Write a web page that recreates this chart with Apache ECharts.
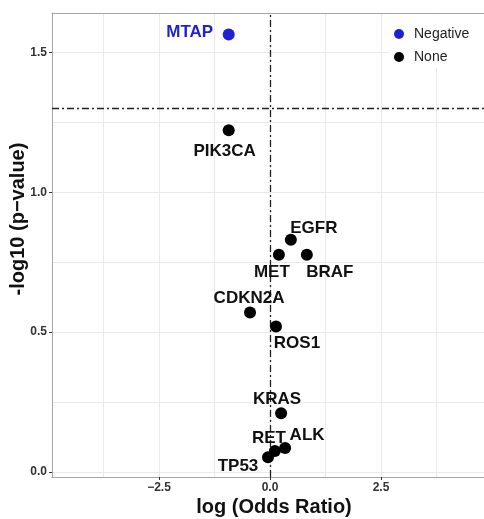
<!DOCTYPE html>
<html>
<head>
<meta charset="utf-8">
<script src="https://cdn.jsdelivr.net/npm/echarts@6/dist/echarts.min.js"></script>
<style>
  html, body { margin: 0; padding: 0; background: #fff; }
  #main { width: 484px; height: 519px; }
</style>
</head>
<body>
<div id="main"></div>
<script>
// values
const genes = ['MTAP', 'PIK3CA', 'EGFR', 'MET', 'BRAF', 'CDKN2A', 'ROS1', 'KRAS', 'RET', 'ALK', 'TP53'];
const logOddsRatio = [-0.93, -0.93, 0.47, 0.20, 0.83, -0.45, 0.135, 0.25, 0.11, 0.34, -0.045];
const negLog10P = [1.564, 1.222, 0.830, 0.777, 0.777, 0.570, 0.520, 0.210, 0.075, 0.086, 0.053];
const direction = ['Negative', 'None', 'None', 'None', 'None', 'None', 'None', 'None', 'None', 'None', 'None'];

const xTicks = [-2.5, 0, 2.5];
const yTicks = [0, 0.5, 1, 1.5];
const xGridLines = [-3.75, -2.5, -1.25, 0, 1.25, 2.5, 3.75];
const yGridLines = [0, 0.25, 0.5, 0.75, 1, 1.25, 1.5];
const pCutoff = -Math.log10(0.05);

// label placement (pixel offset of text centre from the dot)
const labelOffset = {
  MTAP: [-39, -2], PIK3CA: [-4, 21], EGFR: [23, -12], MET: [-7, 18], BRAF: [23, 18],
  CDKN2A: [-1, -14], ROS1: [21, 17], KRAS: [-4, -14], RET: [-6, -13], ALK: [22, -13], TP53: [-30, 9]
};
const colors = { Negative: '#1f1fd4', None: '#000000' };
const FONT = '"Liberation Sans", Arial, Helvetica, sans-serif';
const X_MIN = -4.91, X_MAX = 4.82;

function pointsFor(group) {
  const out = [];
  genes.forEach((g, i) => {
    if (direction[i] !== group) return;
    out.push({
      name: g,
      value: [logOddsRatio[i], negLog10P[i]],
      label: { offset: labelOffset[g] }
    });
  });
  return out;
}

const borderLine = { show: true, onZero: false, lineStyle: { color: '#a6a6a6', width: 1 } };
const gridLineStyle = { color: '#e9e9e9', width: 1, type: 'solid' };
const refLineStyle = { color: '#222', width: 1.3, type: [7, 3, 2, 3] };

let myChart = echarts.init(document.getElementById('main'));
let option = {
  animation: false,
  textStyle: { fontFamily: FONT },
  grid: { left: 52, right: 0, top: 13, bottom: 42 },
  legend: {
    orient: 'vertical',
    left: 389, top: 15,
    padding: [12, 20, 4, 5],
    backgroundColor: '#fff',
    itemWidth: 20, itemHeight: 10, itemGap: 9,
    icon: 'circle',
    data: ['Negative', 'None'],
    textStyle: { fontFamily: FONT, fontSize: 14, color: '#222', lineHeight: 14 }
  },
  xAxis: [
    {
      type: 'value',
      min: X_MIN, max: X_MAX,
      splitLine: { show: false },
      axisLine: borderLine,
      axisTick: { show: true, length: 3, customValues: xTicks, lineStyle: { color: '#333' } },
      axisLabel: {
        customValues: xTicks,
        fontFamily: FONT, fontSize: 12, fontWeight: 'bold', color: '#333', margin: 5,
        formatter: v => v.toFixed(1).replace('-', '\u2212')
      }
    },
    {
      // top border of the panel only
      type: 'value', position: 'top',
      min: X_MIN, max: X_MAX,
      splitLine: { show: false },
      axisLine: borderLine,
      axisTick: { show: false },
      axisLabel: { show: false }
    }
  ],
  yAxis: {
    type: 'value',
    min: -0.018, max: 1.641,
    splitLine: { show: false },
    axisLine: borderLine,
    axisTick: { show: true, length: 3, customValues: yTicks, lineStyle: { color: '#333' } },
    axisLabel: {
      customValues: yTicks,
      fontFamily: FONT, fontSize: 12, fontWeight: 'bold', color: '#333', margin: 5,
      formatter: v => v.toFixed(1)
    }
  },
  graphic: [
    {
      type: 'text', x: 18, y: 219, rotation: Math.PI / 2,
      style: {
        text: '-log10 (p\u2212value)', font: 'bold 20px ' + FONT,
        fill: '#111', textAlign: 'center', textVerticalAlign: 'middle'
      }
    },
    {
      type: 'text', x: 274, y: 507,
      style: {
        text: 'log (Odds Ratio)', font: 'bold 20px ' + FONT,
        fill: '#111', textAlign: 'center', textVerticalAlign: 'middle'
      }
    }
  ],
  series: [
    {
      // background grid lines
      name: 'grid',
      type: 'scatter',
      data: [],
      z: 0,
      silent: true,
      markLine: {
        z: 0,
        silent: true, symbol: 'none', label: { show: false },
        lineStyle: gridLineStyle,
        data: xGridLines.map(v => ({ xAxis: v })).concat(yGridLines.map(v => ({ yAxis: v })))
      }
    },
    {
      name: 'ref',
      type: 'scatter',
      data: [],
      z: 1,
      silent: true,
      markLine: {
        z: 1,
        silent: true, symbol: 'none', label: { show: false },
        lineStyle: refLineStyle,
        data: [{ xAxis: 0 }, { yAxis: pCutoff }]
      }
    },
    {
      name: 'Negative',
      type: 'scatter',
      symbolSize: 12,
      z: 3,
      itemStyle: { color: colors.Negative, opacity: 1 },
      label: {
        show: true, position: 'inside', formatter: p => p.name,
        fontFamily: FONT, fontSize: 17, fontWeight: 'bold', color: colors.Negative
      },
      data: pointsFor('Negative')
    },
    {
      name: 'None',
      type: 'scatter',
      symbolSize: 12,
      z: 3,
      itemStyle: { color: colors.None, opacity: 1 },
      label: {
        show: true, position: 'inside', formatter: p => p.name,
        fontFamily: FONT, fontSize: 17, fontWeight: 'bold', color: '#111'
      },
      data: pointsFor('None')
    }
  ]
};
myChart.setOption(option);
window.addEventListener('resize', function () {
  myChart.resize();
});
</script>
</body>
</html>
